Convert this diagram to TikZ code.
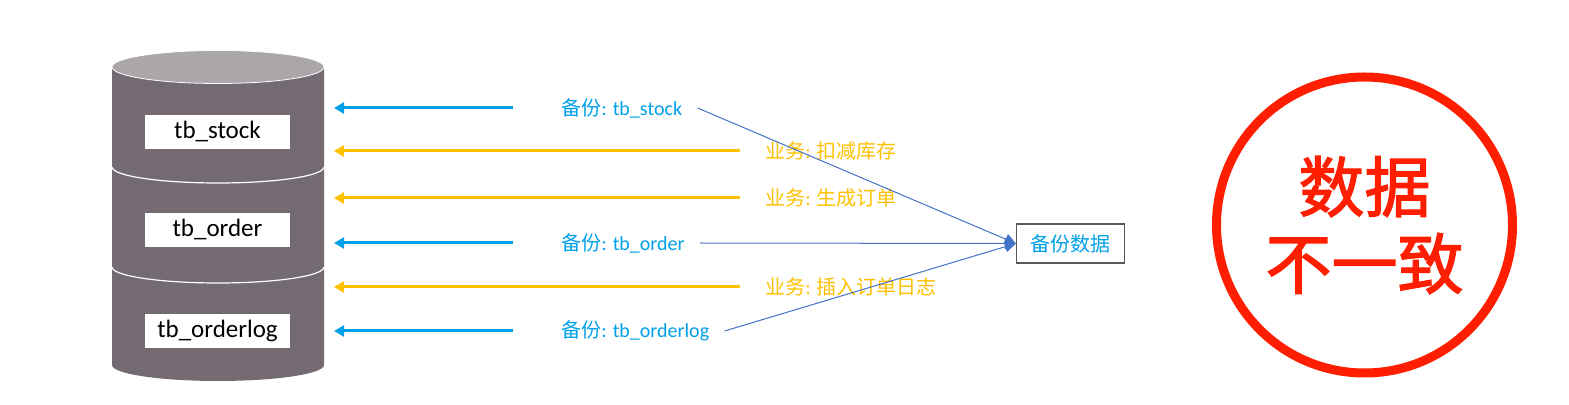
\documentclass[tikz,border=0pt]{standalone}
\usepackage{fontspec}
\setmainfont{Carlito}
\newfontfamily\cjk{Noto Sans CJK SC}
\newfontfamily\cjkb[FakeBold=2]{Noto Sans CJK SC}
\usetikzlibrary{arrows.meta,positioning,calc}
\definecolor{bluex}{HTML}{00A0E9}
\definecolor{orangex}{HTML}{FFC000}
\definecolor{redx}{HTML}{FF1E00}
\definecolor{dbbody}{HTML}{736B71}
\definecolor{dbtop}{HTML}{AAA6AA}
\definecolor{linex}{HTML}{4472C4}
\newcommand{\zh}[1]{{\cjk #1}}
\tikzset{
  tb/.style={fill=white,minimum width=72.5pt,minimum height=17pt,inner sep=0pt,font=\fontsize{12.5}{14}\selectfont},
  bk/.style={text=bluex,inner sep=0pt,anchor=west,font=\fontsize{10}{12}\selectfont},
  yw/.style={bk,text=orangex},
  arb/.style={-{Triangle[length=5pt,width=5.5pt]},line width=1.5pt,bluex},
  aro/.style={arb,orangex},
  ln/.style={-{Triangle[length=5.5pt,width=5.5pt]},line width=0.5pt,linex},
  bakbox/.style={draw=black!65,line width=0.6pt,minimum width=54pt,minimum height=19.5pt,inner sep=0pt,text=bluex,font=\cjk\fontsize{10}{12}\selectfont}
}
\begin{document}
\begin{tikzpicture}[x=0.5pt,y=-0.5pt]
\useasboundingbox (0,0) rectangle (1569,405);
% database
\fill[dbbody] (112,67) -- (112,365) arc[start angle=180,end angle=360,x radius=53pt,y radius=8pt] -- (324,67) -- cycle;
\foreach \y in {167,267}{\draw[white,line width=0.6pt] (112,\y) arc[start angle=180,end angle=360,x radius=53pt,y radius=8pt];}
\fill[dbtop,draw=white,line width=0.4pt] (218,67) ellipse [x radius=53pt,y radius=8.25pt];
\foreach \n/\y/\t in {tbs/132/stock,tbo/230/order,tbl/331/orderlog}{\node[tb] (\n) at (217.5,\y) {tb\_\t};}
\coordinate (dbr) at (334,0);
% backup / business writes
\foreach \n/\y/\t in {bs/108/stock,bo/243/order,bl/331/orderlog}{
  \node[bk] (\n) at (561,\y) {\zh{备份}: tb\_\t};
  \draw[arb] ([xshift=-24pt]\n.west) -- (dbr |- \n.west);
}
\foreach \n/\y/\t in {ys/151/扣减库存,yo/198/生成订单,yl/287/插入订单日志}{
  \node[yw] (\n) at (765,\y) {\zh{业务}: \zh{\t}};
  \draw[aro] ([xshift=-12.5pt]\n.west) -- (dbr |- \n.west);
}
\node[bakbox] (bak) at (1070.5,243.5) {备份数据};
\foreach \n in {bs,bo,bl}{\draw[ln] ([xshift=7.5pt]\n.east) -- (bak.west);}
% result
\node[circle,draw=redx,line width=4.5pt,minimum size=148pt,inner sep=0pt,align=center,text=redx,
  font=\cjkb\fontsize{33}{38.5}\selectfont] (warn) at (1364.5,225) {数据\\不一致};
\end{tikzpicture}
\end{document}
